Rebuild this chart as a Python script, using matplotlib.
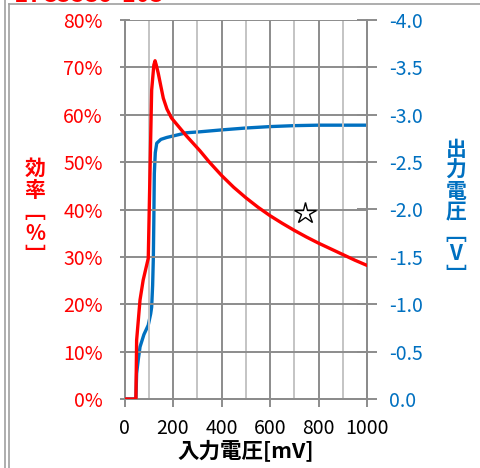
import matplotlib
matplotlib.use('Agg')

import matplotlib.pyplot as plt
from matplotlib.lines import Line2D
from matplotlib.ticker import MultipleLocator, FuncFormatter

plt.rcParams['font.family'] = ['Noto Sans CJK JP', 'DejaVu Sans']

# efficiency [%] vs input voltage [mV]
vin_eff = [8, 47, 50, 64, 77, 98, 105, 112, 121, 126, 131, 139, 150, 160, 175, 194,
           225, 256, 311, 350, 400, 450, 500, 550, 600, 650, 700, 750, 800, 850, 900, 950, 1000]
eff = [0, 0, 12.4, 20.9, 25.1, 29.7, 47.7, 65.2, 70.5, 71.4, 70.5, 68.8, 66.0, 63.5, 61.2, 59.3,
       57.4, 55.5, 52.4, 50.0, 47.2, 44.7, 42.5, 40.5, 38.7, 37.1, 35.6, 34.2, 32.9, 31.7, 30.5,
       29.3, 28.2]

# output voltage [V] vs input voltage [mV]
vin_out = [8, 47, 50, 57, 64, 80, 98, 108, 112, 116, 119, 121, 123, 127, 133, 150, 174,
           256, 311, 400, 500, 600, 700, 800, 1000]
vout = [0, 0, -0.27, -0.42, -0.55, -0.68, -0.78, -0.90, -0.97, -1.2, -1.5, -1.9, -2.38, -2.6,
        -2.7, -2.74, -2.76, -2.81, -2.82, -2.84, -2.86, -2.875, -2.885, -2.89, -2.89]

# marker point
star_x = [743]
star_y = [39.2]

RED = '#FF0000'
BLUE = '#0070C0'
GRID = '#8C8C8C'

fig = plt.figure(figsize=(4.8, 4.68), dpi=100)
ax = fig.add_axes([124.5 / 480, 1 - 399 / 468, (367 - 124.5) / 480, (399 - 20) / 468])
ax2 = ax.twinx()

ax.set_xlim(0, 1000)
ax.set_ylim(0, 80)
ax2.set_ylim(0, -4)

ax.xaxis.set_major_locator(MultipleLocator(200))
ax.xaxis.set_minor_locator(MultipleLocator(100))
ax.yaxis.set_major_locator(MultipleLocator(10))
ax.yaxis.set_major_formatter(FuncFormatter(lambda v, p: '%d%%' % v))
ax2.yaxis.set_major_locator(MultipleLocator(0.5))
ax2.yaxis.set_major_formatter(FuncFormatter(lambda v, p: '0.0' if abs(v) < 1e-9 else '%.1f' % v))

ax.grid(which='major', color=GRID, linewidth=1.4)
ax.grid(which='minor', axis='x', color='#C4C4C4', linewidth=1.4)
ax.set_axisbelow(True)

for a in (ax, ax2):
    for s in a.spines.values():
        s.set_color(GRID)
        s.set_linewidth(1.4)
    a.spines['top'].set_visible(False)

ax.tick_params(axis='x', which='major', length=6, width=1.4, color=GRID, labelsize=14, pad=8)
ax.tick_params(axis='x', which='minor', length=0)
ax.tick_params(axis='y', length=7, width=1.4, color=GRID, labelsize=14, labelcolor=RED, pad=12,
               direction='inout')
ax2.tick_params(axis='y', length=14, width=1.4, color=GRID, labelsize=14, labelcolor=BLUE, pad=9,
                direction='inout')

ax2.plot(vin_out, vout, color=BLUE, linewidth=2.4, solid_joinstyle='round', zorder=3)
ax.plot(vin_eff, eff, color=RED, linewidth=2.4, solid_joinstyle='round', zorder=4)
ax.plot(star_x, star_y, marker='*', markersize=16, markerfacecolor='white',
        markeredgecolor='black', markeredgewidth=1.0, linestyle='none', zorder=5)
ax.set_zorder(ax2.get_zorder() + 1)
ax.patch.set_visible(False)

ax.set_xlabel('入力電圧[mV]', fontsize=15.5, fontweight='bold', labelpad=0)

fig.text(35 / 480, 1 - 212 / 468, '効\n率\n﹇\n%\n﹈', color=RED, fontsize=15, fontweight='bold',
         ha='center', va='center', linespacing=1.05)
fig.text(456 / 480, 1 - 212 / 468, '出\n力\n電\n圧\n﹇\nV\n﹈', color=BLUE, fontsize=15,
         fontweight='bold', ha='center', va='center', linespacing=1.0)

# cut-off title and frame lines of the original sheet
fig.text(14 / 480, 1 - 2.5 / 468, 'LTC3539-103', color=RED, fontsize=17, fontweight='bold',
         va='baseline', ha='left')
fig.add_artist(Line2D([5 / 480, 5 / 480], [0, 1], color='#A0A0A0', linewidth=1.2))
fig.add_artist(Line2D([8.5 / 480, 8.5 / 480], [0, 1 - 4 / 468], color='#A0A0A0', linewidth=1.2))
fig.add_artist(Line2D([8.5 / 480, 1], [1 - 4 / 468, 1 - 4 / 468], color='#A0A0A0', linewidth=1.2))

fig.savefig('out.png', dpi=100)
